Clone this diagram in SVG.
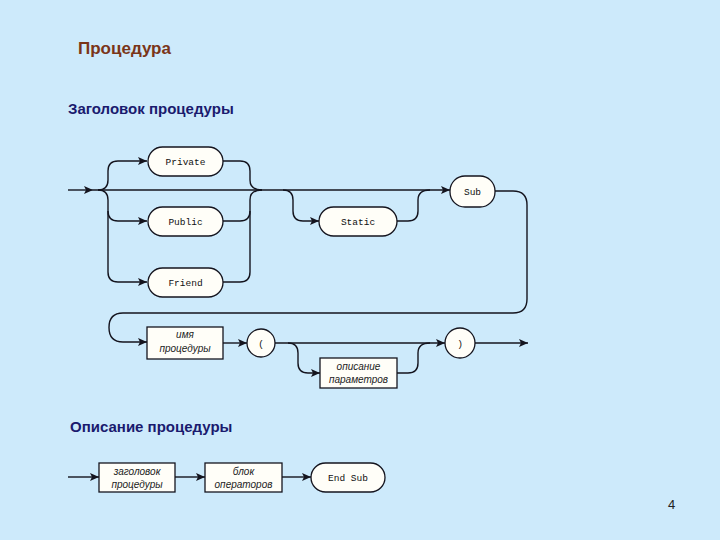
<svg xmlns="http://www.w3.org/2000/svg" width="720" height="540" viewBox="0 0 720 540">
<style>
.ln{fill:none;stroke:#14141e;stroke-width:1.4}
.ar{fill:none;stroke:#14141e;stroke-width:1.4;marker-end:url(#ah)}
.bx{fill:#fffef8;stroke:#14141e;stroke-width:1.3}
.mono{font-family:"Liberation Mono",monospace;font-size:9.5px;fill:#111;text-anchor:middle}
.it{font-family:"Liberation Sans",Arial,sans-serif;font-style:italic;font-size:10px;fill:#222;text-anchor:middle}
.hd{font-family:"Liberation Sans",Arial,sans-serif;font-size:15px;font-weight:bold;fill:#1a1a6e}
</style>
<defs>
<marker id="ah" markerUnits="userSpaceOnUse" markerWidth="10" markerHeight="10" refX="9" refY="5" orient="auto">
<path d="M0,1 L9,5 L0,9 L2,5 Z" fill="#14141e"/>
</marker>
</defs>
<rect width="720" height="540" fill="#cdeafb"/>
<text x="78" y="54" font-family="Liberation Sans,Arial,sans-serif" font-size="17" font-weight="bold" fill="#7a3518">Процедура</text>
<text x="68" y="114" class="hd">Заголовок процедуры</text>
<text x="70" y="432" class="hd">Описание процедуры</text>
<text x="668" y="509" font-family="Liberation Sans,Arial,sans-serif" font-size="13" fill="#222">4</text>
<g id="connectors">
<path class="ar" d="M68,190 H93"/>
<path class="ar" d="M93,190 H450"/>
<path class="ar" d="M98,190 Q108,190 108,180 V171 Q108,161 118,161 H147"/>
<path class="ar" d="M98,190 Q108,190 108,200 V272 Q108,282 118,282 H147"/>
<path class="ar" d="M108,211 Q108,221 118,221 H147"/>
<path class="ln" d="M223,161 H240 Q250,161 250,171 V180 Q250,190 262,190"/>
<path class="ln" d="M223,282 H240 Q250,282 250,272 V200 Q250,190 262,190"/>
<path class="ln" d="M223,221 H240 Q250,221 250,211"/>
<path class="ar" d="M283,190 Q293,190 293,200 V211 Q293,221 303,221 H319"/>
<path class="ln" d="M397,221 H408 Q418,221 418,211 V200 Q418,190 430,190"/>
<path class="ar" d="M495,191 H513 Q527,191 527,205 V299 Q527,313 513,313 H123 Q109,313 109,327.5 Q109,342 123,342 H147"/>
<path class="ar" d="M223,343 H247"/>
<path class="ar" d="M275,343 H445"/>
<path class="ar" d="M475,343 H528"/>
<path class="ar" d="M288,343 Q298,343 298,353 V363 Q298,373 308,373 H320"/>
<path class="ln" d="M397,373 H408 Q418,373 418,363 V353 Q418,343 430,343"/>
<path class="ar" d="M68,477 H99"/>
<path class="ar" d="M175,477 H205"/>
<path class="ar" d="M282,477 H311"/>
</g>
<g id="private"><rect class="bx" x="148" y="147" width="75" height="29" rx="14.5"/><text class="mono" x="185.5" y="164.5">Private</text></g>
<g id="public"><rect class="bx" x="148" y="207" width="75" height="29" rx="14.5"/><text class="mono" x="185.5" y="224.5">Public</text></g>
<g id="friend"><rect class="bx" x="148" y="268" width="75" height="29" rx="14.5"/><text class="mono" x="185.5" y="285.5">Friend</text></g>
<g id="static"><rect class="bx" x="319" y="207" width="78" height="29" rx="14.5"/><text class="mono" x="358" y="224.5">Static</text></g>
<g id="sub"><rect class="bx" x="450" y="176" width="45" height="31" rx="15"/><text class="mono" x="472.5" y="194.5">Sub</text></g>
<g id="name"><rect class="bx" x="147" y="327" width="76" height="32"/><text class="it" x="185" y="338">имя</text><text class="it" x="185" y="352">процедуры</text></g>
<g id="lparen"><circle class="bx" cx="261" cy="343" r="14"/><text class="mono" x="261" y="346.5">(</text></g>
<g id="rparen"><circle class="bx" cx="460" cy="343" r="15"/><text class="mono" x="460" y="346.5">)</text></g>
<g id="params"><rect class="bx" x="320" y="358" width="77" height="30"/><text class="it" x="358.5" y="370">описание</text><text class="it" x="358.5" y="383">параметров</text></g>
<g id="header"><rect class="bx" x="99" y="463" width="76" height="29"/><text class="it" x="137" y="475">заголовок</text><text class="it" x="137" y="488">процедуры</text></g>
<g id="block"><rect class="bx" x="205" y="463" width="77" height="29"/><text class="it" x="243.5" y="475">блок</text><text class="it" x="243.5" y="488">операторов</text></g>
<g id="endsub"><rect class="bx" x="311" y="463" width="74" height="29" rx="14.5"/><text class="mono" x="348" y="480.5">End Sub</text></g>
</svg>
